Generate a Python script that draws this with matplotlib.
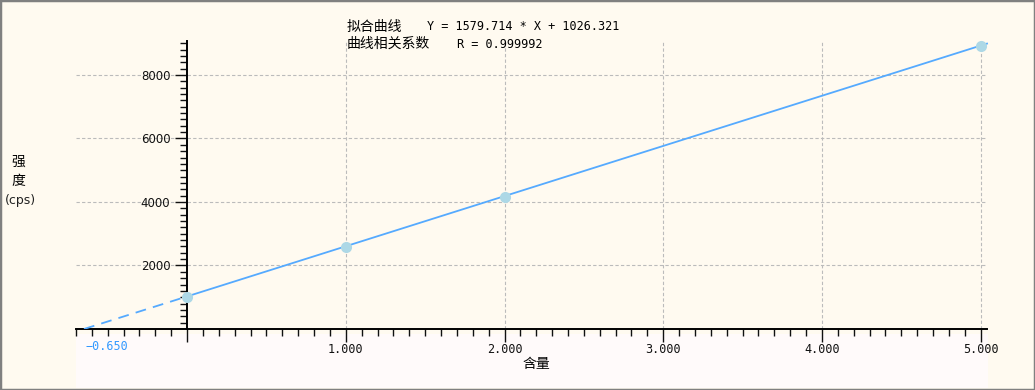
import numpy as np
import matplotlib.pyplot as plt
from matplotlib.patches import Rectangle

# calibration points
content = [0, 1, 2, 5]
intensity = [1010, 2590, 4170, 8925]

# fitted line as printed on the chart
slope = 1579.714
intercept = 1026.321
r_coef = 0.999992
x_ticks = [1, 2, 3, 4, 5]
x_tick_labels = ["1.000", "2.000", "3.000", "4.000", "5.000"]
y_ticks = [2000, 4000, 6000, 8000]

W, H = 1035, 390
CJK = ["Noto Sans CJK SC", "DejaVu Sans"]
BG = "#FFFAF0"

fig = plt.figure(figsize=(W / 100, H / 100), dpi=100, facecolor=BG)


def fx(px):
    return px / W


def fy(py):
    return 1 - py / H


ax = fig.add_axes([fx(76), fy(329), fx(987) - fx(76), fy(41) - fy(329)])
ax.set_facecolor("none")
ax.set_xlim(-0.70, 5.04)
ax.set_ylim(0, 9070)

# fitted line: dashed extrapolation to the x-axis, solid through the standards
x_root = -intercept / slope
ax.plot([x_root, 0], [0, intercept], color="#55AAFF", lw=1.3, ls=(0, (6, 4)), zorder=3)
x_end = 5.04
ax.plot([0, x_end], [intercept, slope * x_end + intercept], color="#55AAFF", lw=1.3,
        zorder=3, clip_on=False)
ax.plot(content, intensity, "o", color="#ADD8E6", ms=8, mec="none", zorder=4, clip_on=False)

# spines
for s in ["top", "right"]:
    ax.spines[s].set_visible(False)
ax.spines["left"].set_position(("data", 0))
ax.spines["left"].set_linewidth(1.4)
ax.spines["bottom"].set_linewidth(1.4)

# ticks
ax.set_xticks([0] + x_ticks)
ax.set_xticklabels([""] + x_tick_labels, family="DejaVu Sans Mono", fontsize=8.5)
ax.set_xticks(np.round(np.arange(-0.7, 5.01, 0.1), 1), minor=True)
ax.set_yticks(y_ticks)
ax.set_yticklabels([str(v) for v in y_ticks], fontsize=8.5)
ax.set_yticks(np.arange(200, 9001, 200), minor=True)
ax.tick_params(which="major", direction="out", length=9, width=1, pad=3, colors="#111111")
ax.tick_params(axis="x", which="major", pad=1)
ax.tick_params(which="minor", direction="out", length=5, width=1, colors="#111111")

# grid
for v in y_ticks:
    ax.axhline(v, color="#BBBBBB", lw=0.8, ls=(0, (3, 2)), zorder=1)
for v in x_ticks:
    ax.axvline(v, color="#BBBBBB", lw=0.8, ls=(0, (3, 2)), zorder=1)

# lower band and frame
fig.patches.append(Rectangle((fx(76), fy(388)), fx(988) - fx(76), fy(334) - fy(388),
                             transform=fig.transFigure, facecolor="#FFFAFA", edgecolor="none", zorder=-1))
fig.patches.append(Rectangle((0, 0), 1, 1, transform=fig.transFigure, fill=False,
                             edgecolor="#808080", lw=2.5, zorder=10))

# texts
fig.text(fx(86), fy(346), "\u22120.650", color="#3399FF", family="DejaVu Sans Mono", fontsize=8.5,
         ha="left", va="center")
fig.text(fx(347), fy(27), "拟合曲线", family=CJK, fontsize=10, va="center")
fig.text(fx(427), fy(27), f"Y = {slope:.3f} * X + {intercept:.3f}", family="DejaVu Sans Mono",
         fontsize=8.5, va="center")
fig.text(fx(347), fy(44), "曲线相关系数", family=CJK, fontsize=10, va="center")
fig.text(fx(457), fy(44), f"R = {r_coef:.6f}", family="DejaVu Sans Mono", fontsize=8.5, va="center")
fig.text(fx(536), fy(364), "含量", family=CJK, fontsize=10, ha="center", va="center")
fig.text(fx(18), fy(162), "强", family=CJK, fontsize=10, ha="center", va="center")
fig.text(fx(18), fy(181), "度", family=CJK, fontsize=10, ha="center", va="center")
fig.text(fx(20), fy(201), "(cps)", fontsize=9, ha="center", va="center", color="#222222")

fig.savefig("out.png", dpi=100, facecolor=BG)
